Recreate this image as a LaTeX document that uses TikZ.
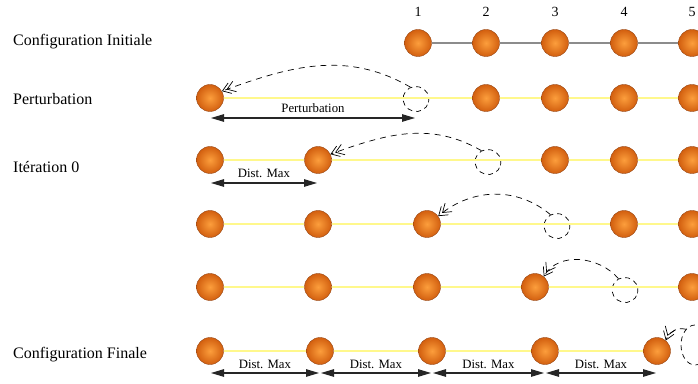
\documentclass[tikz,border=0pt]{standalone}
\usepackage{fontspec}
\setmainfont{Liberation Serif}
\usetikzlibrary{arrows.meta,shapes.geometric}

\definecolor{orangeclair}{RGB}{252,158,60}
\definecolor{orangefonce}{RGB}{210,95,15}
\definecolor{bordbille}{RGB}{150,70,20}
\definecolor{filjaune}{RGB}{255,248,140}
\definecolor{filgris}{RGB}{140,140,140}

\tikzset{
  bille/.style={circle, minimum size=27pt, inner sep=0pt, draw=bordbille, line width=0.4pt, inner color=orangeclair, outer color=orangefonce},
  fantome/.style={ellipse, draw, dash pattern=on 5pt off 4pt, line width=0.7pt, minimum width=26pt, minimum height=25pt, inner sep=0pt, rotate=-15},
  saut/.style={dash pattern=on 6pt off 5pt, line width=0.7pt, -{Straight Barb[length=8pt,width=11pt,sep=-4pt]Straight Barb[length=8pt,width=11pt]}},
  mesure/.style={{Triangle[length=13pt,width=7.5pt]}-{Triangle[length=13pt,width=7.5pt]}, line width=1.1pt, black!85, shorten <=1pt, shorten >=1pt},
  fil/.style={line width=2pt, filjaune},
  titre/.style={font=\fontsize{16}{18}\selectfont, anchor=base west, inner sep=0pt},
  cote/.style={font=\fontsize{12.75}{14}\selectfont, anchor=base, inner sep=0pt, yshift=5pt, text=black},
  numero/.style={font=\fontsize{14}{16}\selectfont, anchor=base, inner sep=0pt}
}

\begin{document}
\begin{tikzpicture}[x=1pt, y=1pt]
  \useasboundingbox (0,0) rectangle (698,383);

	%row titles
 \node[titre] (tInit) at (13,337) {Configuration Initiale};
 \node[titre] (tPert) at (13,278) {Perturbation};
 \node[titre] (tIter) at (13,210) {Itération 0};
 \node[titre] (tFin) at (13,25) {Configuration Finale};

	%initial configuration
 \def\dy{340};
    \foreach \x/\num/\name in {418/1/i1,486/2/i2,555/3/i3,624/4/i4,692/5/i5}{
         \node[bille] (\name) at (\x, \dy) {};
         \node[numero] (n\num) at (\x, \dy+26) {\num};
    }
 \draw[line width=2pt, filgris] (i1) -- (i2) -- (i3) -- (i4) -- (i5);

	%perturbation
 \def\dy{285};
    \foreach \x/\name in {210/a1,486/a2,555/a3,624/a4,692/a5}{
         \node[bille] (\name) at (\x, \dy) {};
    }
 \node[fantome] (g1) at (416, \dy-1) {};
 \draw[fil] (a1) -- (a2) -- (a3) -- (a4) -- (a5);
 \draw[saut] (g1.130) to[out=150, in=20] (a1.30);
 \draw[mesure] (a1.center |- 0,265) -- node[cote] {Perturbation} (g1.center |- 0,265);

	%iteration 0
 \def\dy{223};
    \foreach \x/\name in {210/b1,318/b2,555/b3,624/b4,692/b5}{
         \node[bille] (\name) at (\x, \dy) {};
    }
 \node[fantome] (g2) at (488, \dy-2) {};
 \draw[fil] (b1) -- (b2) -- (b3) -- (b4) -- (b5);
 \draw[saut] (g2.135) to[out=150, in=20] (b2.25);
 \draw[mesure] (b1.center |- 0,200) -- node[cote] {Dist. Max} (b2.center |- 0,200);

 \def\dy{159};
    \foreach \x/\name in {210/c1,318/c2,427/c3,624/c4,692/c5}{
         \node[bille] (\name) at (\x, \dy) {};
    }
 \node[fantome] (g3) at (557, \dy-2) {};
 \draw[fil] (c1) -- (c2) -- (c3) -- (c4) -- (c5);
 \draw[saut] (g3.135) to[out=140, in=40] (c3.35);

 \def\dy{96};
    \foreach \x/\name in {210/d1,318/d2,427/d3,535/d4,692/d5}{
         \node[bille] (\name) at (\x, \dy) {};
    }
 \node[fantome] (g4) at (625, \dy-3) {};
 \draw[fil] (d1) -- (d2) -- (d3) -- (d4) -- (d5);
 \draw[saut] (g4.135) to[out=130, in=60] (d4.50);

	%final configuration
 \def\dy{32};
    \foreach \x/\name in {210/f1,320/f2,432/f3,545/f4,657/f5}{
         \node[bille] (\name) at (\x, \dy) {};
    }
 \node[fantome, minimum width=28pt, minimum height=40pt, rotate=15] (g5) at (695, \dy+6) {};
 \draw[fil] (f1) -- (f2) -- (f3) -- (f4) -- (f5);
 \draw[saut] (g5.120) to[out=165, in=70] (f5.50);
    \foreach \a/\b in {f1/f2,f2/f3,f3/f4,f4/f5}{
         \draw[mesure] (\a.center |- 0,10) -- node[cote] {Dist. Max} (\b.center |- 0,10);
    }

\end{tikzpicture}
\end{document}
